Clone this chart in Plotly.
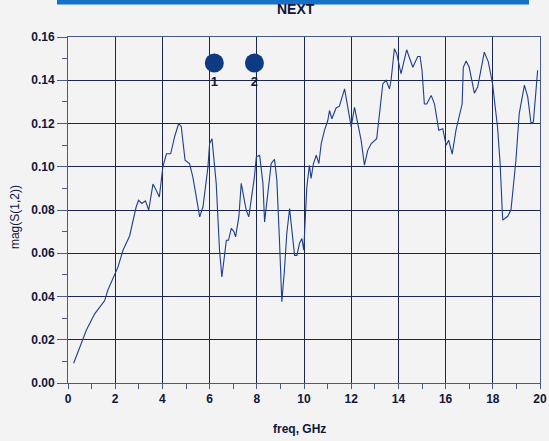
import plotly.graph_objects as go

# |S21| crosstalk (NEXT) versus frequency
freq_ghz = [0.24, 0.50, 0.78, 1.13, 1.55, 1.69, 1.98, 2.12, 2.33, 2.47, 2.61, 2.89, 2.99,
            3.13, 3.28, 3.42, 3.60, 3.70, 3.87, 4.02, 4.17, 4.35, 4.52, 4.69, 4.80, 4.96,
            5.15, 5.29, 5.58, 5.72, 5.93, 6.00, 6.10, 6.28, 6.42, 6.52, 6.64, 6.71, 6.80,
            6.92, 7.03, 7.10, 7.24, 7.34, 7.55, 7.66, 7.90, 7.98, 8.12, 8.26, 8.33, 8.61,
            8.75, 8.85, 8.96, 9.06, 9.17, 9.27, 9.39, 9.46, 9.60, 9.70, 9.81, 9.91, 9.99,
            10.05, 10.12, 10.23, 10.30, 10.40, 10.52, 10.63, 10.73, 10.87, 11.01, 11.08,
            11.18, 11.36, 11.50, 11.72, 11.85, 12.00, 12.14, 12.28, 12.42, 12.56, 12.70,
            12.85, 13.08, 13.20, 13.34, 13.48, 13.62, 13.69, 13.83, 13.93, 14.11, 14.35,
            14.61, 14.82, 14.92, 15.00, 15.10, 15.20, 15.39, 15.53, 15.71, 15.88, 16.02,
            16.13, 16.28, 16.44, 16.70, 16.75, 16.87, 17.00, 17.22, 17.36, 17.64, 17.81,
            17.99, 18.20, 18.31, 18.42, 18.63, 18.77, 18.98, 19.12, 19.34, 19.48, 19.62,
            19.72, 19.90]
mag_s12 = [0.0091, 0.0168, 0.0245, 0.032, 0.038, 0.043, 0.0507, 0.0537, 0.0614, 0.065,
           0.068, 0.0815, 0.0845, 0.083, 0.0842, 0.080, 0.092, 0.090, 0.086, 0.100, 0.106,
           0.106, 0.114, 0.120, 0.1185, 0.103, 0.1015, 0.0953, 0.0768, 0.0815, 0.0999,
           0.1107, 0.113, 0.0923, 0.0614, 0.049, 0.060, 0.066, 0.066, 0.0715, 0.070,
           0.0676, 0.0768, 0.0923, 0.080, 0.0768, 0.0953, 0.1046, 0.1053, 0.0923, 0.0745,
           0.1015, 0.1034, 0.0938, 0.066, 0.0376, 0.052, 0.069, 0.0807, 0.0738, 0.059,
           0.059, 0.0646, 0.0668, 0.0614, 0.0753, 0.0907, 0.1007, 0.0946, 0.1015, 0.1053,
           0.1015, 0.1107, 0.1169, 0.1215, 0.126, 0.1222, 0.1272, 0.128, 0.136, 0.1275,
           0.1184, 0.1275, 0.120, 0.1123, 0.1007, 0.1076, 0.1107, 0.113, 0.1246, 0.1384,
           0.140, 0.136, 0.140, 0.1546, 0.1523, 0.143, 0.1541, 0.146, 0.151, 0.151,
           0.1446, 0.129, 0.129, 0.133, 0.129, 0.1169, 0.1176, 0.110, 0.1123, 0.1058,
           0.1169, 0.129, 0.146, 0.1489, 0.146, 0.134, 0.137, 0.153, 0.1485, 0.1384,
           0.1184, 0.1015, 0.0753, 0.0771, 0.080, 0.103, 0.1246, 0.1377, 0.1323, 0.120,
           0.1207, 0.1446]

# Marker positions and labels
marker_freq = [6.2, 7.9]
marker_mag = [0.148, 0.148]
marker_labels = ["1", "2"]

x_ticks = [0, 2, 4, 6, 8, 10, 12, 14, 16, 18, 20]
y_ticks = [0.00, 0.02, 0.04, 0.06, 0.08, 0.10, 0.12, 0.14, 0.16]

GRID = "#1c2650"
BG = "#f3f3f3"
TXT = "#10163a"
FONT = "Liberation Sans"

fig = go.Figure()
fig.add_trace(go.Scatter(
    x=freq_ghz, y=mag_s12, mode="lines",
    line=dict(color="#1d3f8c", width=1.1),
    hoverinfo="skip", showlegend=False))
fig.add_trace(go.Scatter(
    x=marker_freq, y=marker_mag, mode="markers+text",
    marker=dict(size=19, color="#0e3a82"),
    text=marker_labels, textposition="bottom center",
    textfont=dict(family=FONT, size=13, color=TXT, weight="bold"),
    hoverinfo="skip", showlegend=False))

axis_common = dict(
    showgrid=True, gridcolor=GRID, gridwidth=1.2,
    showline=True, linecolor="#4a5a88", linewidth=1, mirror=True,
    ticks="outside", tickcolor="#4a5a88", automargin=False,
    tickfont=dict(family=FONT, size=12, color=TXT, weight="bold"),
    zeroline=False,
)

fig.update_xaxes(
    **axis_common, range=[0, 20], tickvals=x_ticks,
    ticktext=[str(v) for v in x_ticks], ticklen=5,
    minor=dict(dtick=1, tick0=0, ticks="outside", ticklen=5,
               tickcolor="#4a5a88", showgrid=False))
fig.update_yaxes(
    **axis_common, range=[0, 0.16], tickvals=y_ticks,
    ticktext=[f"{v:.2f}" for v in y_ticks], ticklen=10,
    minor=dict(dtick=0.01, tick0=0, ticks="outside", ticklen=5,
               tickcolor="#4a5a88", showgrid=False))

fig.update_layout(
    width=549, height=441, autosize=False,
    margin=dict(l=68, r=9, t=37, b=58, autoexpand=False),
    paper_bgcolor=BG, plot_bgcolor=BG,
    shapes=[dict(type="rect", xref="paper", yref="paper",
                 x0=-0.0233, x1=0.9767, y0=1.094, y1=1.12,
                 fillcolor="#1570c8", line=dict(width=0), layer="above")],
    annotations=[
        dict(text="NEXT", xref="paper", yref="paper", x=0.484, y=1.082,
             showarrow=False, yanchor="middle",
             font=dict(family=FONT, size=14, color=TXT, weight="bold")),
        dict(text="freq, GHz", xref="paper", yref="paper", x=0.491, y=-0.133,
             showarrow=False, yanchor="middle",
             font=dict(family=FONT, size=12, color=TXT, weight="bold")),
        dict(text="mag(S(1,2))", xref="paper", yref="paper", x=-0.112, y=0.48,
             showarrow=False, textangle=-90, xanchor="center", yanchor="middle",
             font=dict(family=FONT, size=12, color=TXT)),
    ],
)

fig.write_html("out.html")
